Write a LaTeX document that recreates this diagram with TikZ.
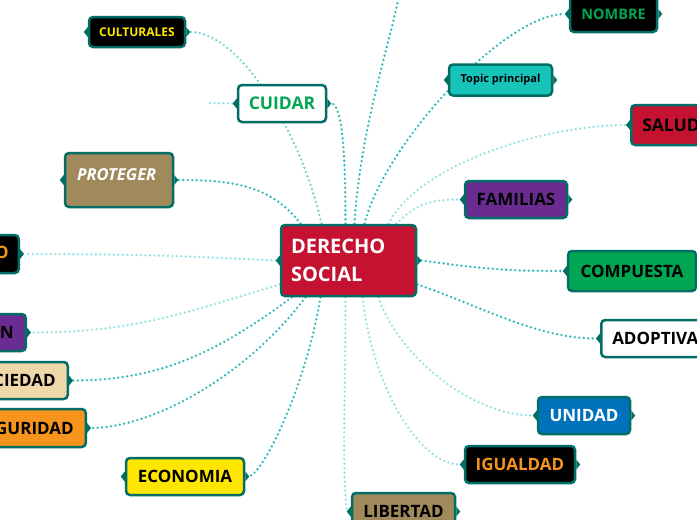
\documentclass[tikz,border=0pt]{standalone}
\usepackage{fontspec}
\setmainfont{Open Sans}
\usetikzlibrary{calc}
\pgfdeclarelayer{bg}
\pgfsetlayers{bg,main}
\definecolor{bord}{RGB}{0,110,100}
\definecolor{redA}{RGB}{196,18,48}
\definecolor{yelA}{RGB}{255,230,0}
\definecolor{grnA}{RGB}{0,166,81}
\definecolor{turA}{RGB}{22,196,185}
\definecolor{purA}{RGB}{106,44,145}
\definecolor{bluA}{RGB}{0,114,188}
\definecolor{oraA}{RGB}{247,148,29}
\definecolor{begA}{RGB}{238,216,170}
\definecolor{tanA}{RGB}{160,137,90}
\definecolor{lineD}{RGB}{45,185,185}
\definecolor{lineM}{RGB}{110,210,210}
\definecolor{lineL}{RGB}{150,225,225}
\newcommand\mmfs[2]{\fontsize{#1}{#2}\selectfont}
\begin{document}
\begin{tikzpicture}[x=1pt,y=-1pt,
  box/.style={draw=bord, line width=2.5pt, rounded corners=4pt, inner sep=0pt,
    font=\bfseries\mmfs{17}{19}, minimum height=37pt},
  connD/.style={draw=lineD, line width=2.6pt, dash pattern=on 0pt off 4.5pt, line cap=round},
  connM/.style={connD, draw=lineM},
  connL/.style={connD, draw=lineL}]
\useasboundingbox (0,0) rectangle (697,520);
\clip (0,0) rectangle (697,520);

\node[box, fill=redA, text=white, text width=115pt, inner xsep=10pt, align=left,
  minimum height=71pt, font=\bfseries\mmfs{20}{28}] (c) at (348.5,260.5) {DERECHO\\SOCIAL};
\node[box, fill=black, text=yelA, minimum width=96pt, minimum height=30pt,
  font=\bfseries\mmfs{12}{14}] (cult) at (137,32) {CULTURALES};
\node[box, fill=white, text=grnA, minimum width=88pt, font=\bfseries\mmfs{17.5}{19}] (cuidar) at (282,103.5) {CUIDAR};
\node[box, fill=turA, text=black, minimum width=103pt, minimum height=31pt,
  font=\bfseries\mmfs{11}{13}] (topic) at (500.5,80) {Topic principal};
\node[box, fill=black, text=grnA, minimum width=87pt, minimum height=36pt,
  font=\bfseries\mmfs{14.5}{16}] (nombre) at (613.5,14) {NOMBRE};
\node[box, fill=redA, text=black, anchor=west, inner xsep=11pt, minimum height=40pt,
  font=\bfseries\mmfs{17.5}{19}] (salud) at (630,125) {SALUD\hspace{20pt}};
\node[box, fill=purA, text=black, minimum width=102pt] (fam) at (516,199.5) {FAMILIAS};
\node[box, fill=grnA, text=black, minimum width=128pt, minimum height=40pt] (comp) at (632,271) {COMPUESTA};
\node[box, fill=white, text=black, anchor=west, inner xsep=11pt] (adop) at (600,338.5) {ADOPTIVA\hspace{20pt}};
\node[box, fill=bluA, text=white, minimum width=92pt] (unid) at (584,415.5) {UNIDAD};
\node[box, fill=black, text=oraA, minimum width=110pt] (igual) at (520,464.5) {IGUALDAD};
\node[box, fill=tanA, text=black, minimum width=103pt] (lib) at (403.5,511.5) {LIBERTAD};
\node[box, fill=yelA, text=black, minimum width=118pt] (econ) at (185,476.5) {ECONOMIA};
\node[box, fill=oraA, text=black, anchor=east, inner xsep=12pt, minimum height=38pt] (seg) at (87,428) {SEGURIDAD};
\node[box, fill=begA, text=black, anchor=east, inner xsep=12pt] (soc) at (69,380.5) {SOCIEDAD};
\node[box, fill=purA, text=black, anchor=east, inner xsep=12pt] (edu) at (27,332.5) {EDUCACION};
\node[box, fill=black, text=oraA, anchor=east, inner xsep=10pt, minimum height=38pt] (trab) at (20,254) {TRABAJO};
\node[box, fill=tanA, text=white, minimum width=108pt, minimum height=54pt, text width=84pt,
  inner xsep=12pt, inner ysep=8pt, text height=19pt, text depth=19pt, align=left,
  font=\bfseries\itshape\mmfs{16.5}{18}] (prot) at (119,180) {PROTEGER};

\foreach \n in {c,cult,cuidar,topic,nombre,salud,fam,comp,adop,unid,igual,lib,econ,seg,soc,edu,trab,prot}{
  \fill[bord] ([yshift=5pt]\n.west) -- ([xshift=-4pt]\n.west) -- ([yshift=-5pt]\n.west) -- cycle;
  \fill[bord] ([yshift=5pt]\n.east) -- ([xshift=4pt]\n.east) -- ([yshift=-5pt]\n.east) -- cycle;
}

\coordinate (topend) at (399,-4);
\coordinate (cleft) at (210,103);

\begin{pgfonlayer}{bg}
\draw[connD] ([xshift=-3pt]c.north) .. controls +(0,-60) and +(12,0) .. ([xshift=4pt]cuidar.east);
\draw[connM] ([xshift=-27pt]c.north) .. controls +(-20,-90) and +(50,0) .. ([xshift=4pt]cult.east);
\draw[connD] ([xshift=-48pt]c.north) .. controls +(-30,-40) and +(50,0) .. ([xshift=4pt]prot.east);
\draw[connD] ([xshift=6pt]c.north) .. controls +(5,-90) and +(-10,50) .. (topend);
\draw[connD] ([xshift=16pt]c.north) .. controls +(20,-80) and +(-60,0) .. ([xshift=-4pt]nombre.west);
\draw[connL] ([xshift=40pt]c.north) .. controls +(30,-60) and +(-80,0) .. ([xshift=-4pt]salud.west);
\draw[connL] ([xshift=48pt]c.north) .. controls +(20,-20) and +(-30,0) .. ([xshift=-4pt]fam.west);
\draw[connD] ([xshift=4pt]c.east) .. controls +(60,8) and +(-60,0) .. ([xshift=-4pt]comp.west);
\draw[connD] ([yshift=-24pt]c.east) .. controls +(60,20) and +(-60,0) .. ([xshift=-4pt]adop.west);
\draw[connL] ([xshift=30pt]c.south) .. controls +(20,60) and +(-60,0) .. ([xshift=-4pt]unid.west);
\draw[connL] ([xshift=14pt]c.south) .. controls +(10,90) and +(-40,0) .. ([xshift=-4pt]igual.west);
\draw[connL] ([xshift=-3pt]c.south) .. controls +(0,100) and +(-5,-50) .. ([xshift=-4pt]lib.west);
\draw[connD] ([xshift=-28pt]c.south) .. controls +(-15,90) and +(15,-5) .. ([xshift=4pt]econ.east);
\draw[connD] ([xshift=-43pt]c.south) .. controls +(-60,80) and +(60,0) .. ([xshift=4pt]seg.east);
\draw[connD] ([xshift=12pt]c.south west) .. controls +(-80,60) and +(80,0) .. ([xshift=4pt]soc.east);
\draw[connL] ([yshift=-24pt]c.west) .. controls +(-100,30) and +(100,0) .. ([xshift=4pt]edu.east);
\draw[connL] ([xshift=-4pt]c.west) .. controls +(-100,-5) and +(100,0) .. ([xshift=4pt]trab.east);
\draw[connL] (cleft) -- ([xshift=-4pt]cuidar.west);
\end{pgfonlayer}
\end{tikzpicture}
\end{document}
